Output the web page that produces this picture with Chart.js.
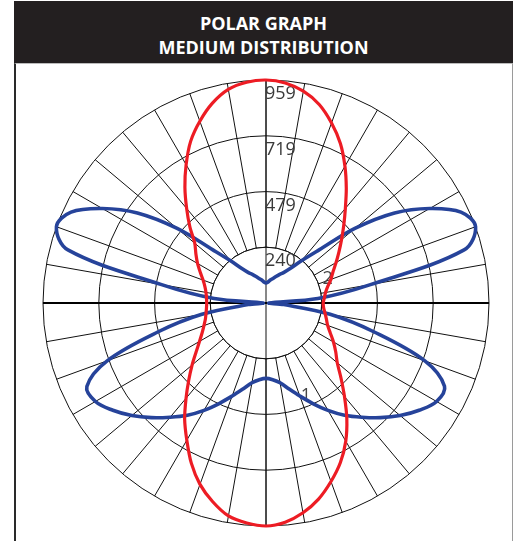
<!DOCTYPE html>
<html>
<head>
<meta charset="utf-8">
<script src="https://cdn.jsdelivr.net/npm/chart.js@4.4.1/dist/chart.umd.min.js"></script>
<style>
  html, body { margin: 0; padding: 0; background: #fff; }
  body { width: 516px; height: 541px; position: relative; overflow: hidden; font-family: "Open Sans", "Noto Sans", sans-serif; }
  .header {
    position: absolute; left: 14px; top: 1px; width: 499px; height: 62px;
    background: #231f20; color: #fff; text-align: center;
    font-weight: 700; font-size: 18px; line-height: 24px;
    box-sizing: border-box; padding-top: 10px;
  }
  .box {
    position: absolute; left: 14px; top: 63px; width: 499px; height: 490px;
    border-left: 2px solid #2a2a2a; border-right: 1px solid #9a9a9a; border-top: 1px solid #bbb;
    box-sizing: border-box;
  }
  #polar { position: absolute; left: 31px; top: 68px; }
</style>
</head>
<body>
<div class="header">POLAR GRAPH<br>MEDIUM DISTRIBUTION</div>
<div class="box"></div>
<canvas id="polar" width="470" height="470"></canvas>
<script>
// angles in degrees, clockwise from the top
const angles = [];
for (let a = 0; a < 360; a += 5) angles.push(String(a));

const tickValues = [0, 240, 479, 719, 959];
const tickLabels = ['', '240', '479', '719', '959'];

// red curve ("2")
const redValues = [
  959, 950, 925, 884, 824, 757, 679, 602, 531, 473, 424, 383,
  348, 318, 297, 275, 260, 252, 246, 249, 258, 269, 282, 305,
  335, 366, 400, 456, 525, 606, 686, 757, 817, 873, 916, 946,
  959, 950, 930, 885, 830, 760, 681, 610, 535, 470, 415, 367,
  330, 303, 284, 270, 262, 257, 255, 257, 262, 272, 288, 312,
  340, 368, 400, 463, 531, 608, 687, 767, 832, 890, 933, 953
];

// blue curve ("1")
const blueValues = [
  86, 90, 99, 108, 120, 135, 151, 181, 237, 323, 499, 675,
  813, 925, 959, 882, 456, 224, 13, 77, 280, 482, 727, 847,
  847, 804, 753, 697, 641, 589, 533, 477, 426, 383, 348, 331,
  324, 331, 348, 383, 426, 477, 533, 589, 641, 697, 753, 804,
  847, 850, 727, 482, 280, 77, 13, 224, 456, 882, 959, 925,
  813, 675, 499, 323, 237, 181, 151, 135, 120, 108, 99, 90
];

const curveLabels = ['2', '1'];
const curveLabelAt = [[285, 68.3], [435, 156.7]]; // [value, angle]

const innerPlugin = {
  id: 'innerPlugin',
  beforeDatasetsDraw(chart) {
    const s = chart.scales.r;
    const ctx = chart.ctx;
    const cx = s.xCenter, cy = s.yCenter;
    const r1 = s.getDistanceFromCenterForValue(tickValues[1]);
    const rMax = s.getDistanceFromCenterForValue(tickValues[tickValues.length - 1]);
    ctx.save();
    // spokes start at the first ring
    ctx.fillStyle = '#fff';
    ctx.beginPath();
    ctx.arc(cx, cy, r1 - 0.5, 0, Math.PI * 2);
    ctx.fill();
    ctx.strokeStyle = '#111';
    ctx.lineWidth = 1;
    ctx.beginPath();
    ctx.arc(cx, cy, r1, 0, Math.PI * 2);
    ctx.stroke();
    // axes
    ctx.beginPath();
    ctx.moveTo(cx, cy - rMax);
    ctx.lineTo(cx, cy + rMax);
    ctx.stroke();
    ctx.lineWidth = 2;
    ctx.strokeStyle = '#000';
    ctx.beginPath();
    ctx.moveTo(cx - rMax, cy);
    ctx.lineTo(cx + rMax, cy);
    ctx.stroke();
    // ring values
    ctx.font = '18px "Open Sans"';
    ctx.fillStyle = '#3a3a3a';
    ctx.textAlign = 'left';
    ctx.textBaseline = 'alphabetic';
    tickValues.forEach((v, i) => {
      if (!tickLabels[i]) return;
      const d = s.getDistanceFromCenterForValue(v);
      ctx.fillText(tickLabels[i], cx - 1, cy - d + 19);
    });
    // curve names
    ctx.textAlign = 'center';
    ctx.textBaseline = 'middle';
    ctx.fillStyle = '#444';
    curveLabels.forEach((t, i) => {
      const d = s.getDistanceFromCenterForValue(curveLabelAt[i][0]);
      const a = curveLabelAt[i][1] * Math.PI / 180;
      ctx.fillText(t, cx + d * Math.sin(a), cy - d * Math.cos(a));
    });
    ctx.restore();
  }
};

new Chart(document.getElementById('polar').getContext('2d'), {
  type: 'radar',
  data: {
    labels: angles,
    datasets: [
      { label: curveLabels[0], data: redValues, borderColor: '#ed1c24', borderWidth: 3.2, fill: false, pointRadius: 0, clip: false, tension: 0.25 },
      { label: curveLabels[1], data: blueValues, borderColor: '#26439a', borderWidth: 3.6, fill: false, pointRadius: 0, clip: false, tension: 0.35 }
    ]
  },
  options: {
    responsive: false,
    animation: false,
    layout: { padding: 12 },
    plugins: { legend: { display: false }, tooltip: { enabled: false } },
    scales: {
      r: {
        min: 0,
        max: 959,
        startAngle: 0,
        afterBuildTicks: s => { s.ticks = tickValues.map(v => ({ value: v })); },
        ticks: { display: false },
        grid: { circular: true, color: '#111', lineWidth: 1 },
        angleLines: {
          color: '#111',
          lineWidth: c => (c.index % 2 === 0 ? 1 : 0)
        },
        pointLabels: { display: false }
      }
    }
  },
  plugins: [innerPlugin]
});
</script>
</body>
</html>
